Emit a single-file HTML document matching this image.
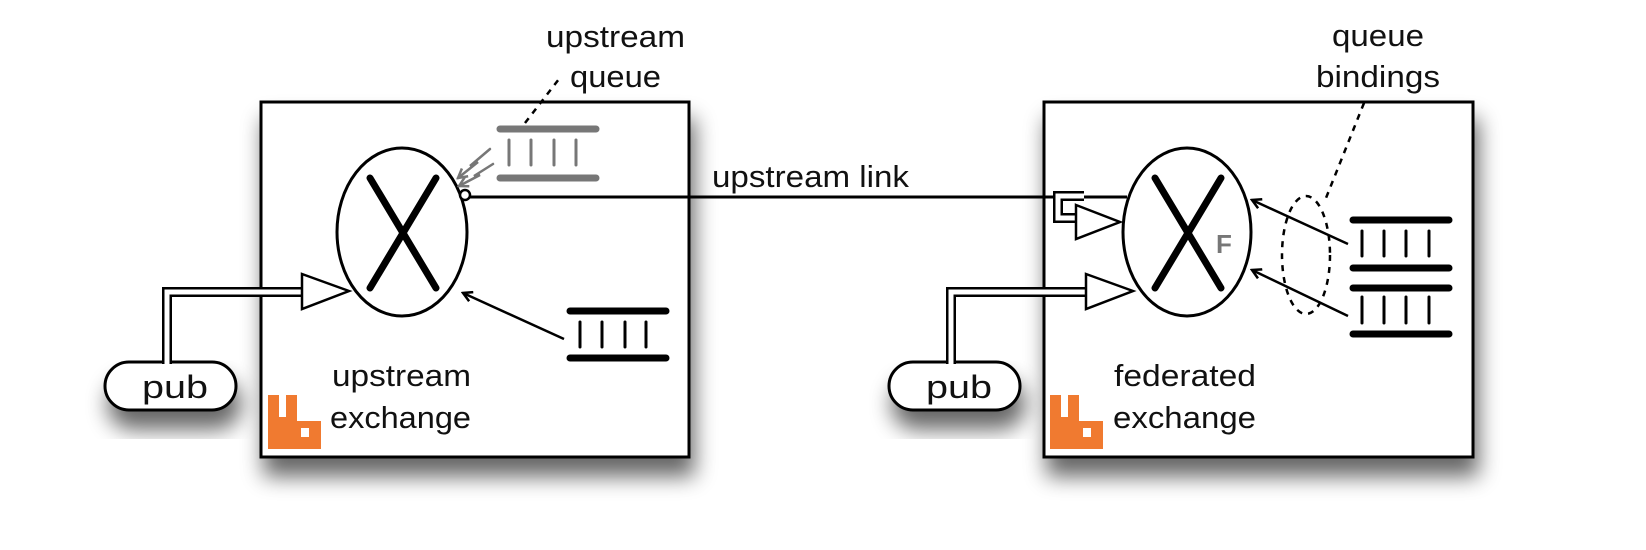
<!DOCTYPE html>
<html><head><meta charset="utf-8"><style>
html,body{margin:0;padding:0;background:#fff}
svg{display:block}
text{font-family:"Liberation Sans",sans-serif;fill:#111}
</style></head><body>
<svg width="1646" height="550" viewBox="0 0 1646 550" xmlns="http://www.w3.org/2000/svg">
<defs>
<filter id="sh" x="-40%" y="-40%" width="180%" height="200%">
<feGaussianBlur in="SourceAlpha" stdDeviation="11"/>
<feOffset dx="4" dy="18" result="b"/>
<feComponentTransfer><feFuncA type="linear" slope="0.6"/></feComponentTransfer>
<feMerge><feMergeNode/><feMergeNode in="SourceGraphic"/></feMerge>
</filter>
<marker id="ah" markerWidth="12" markerHeight="12" refX="10" refY="6" orient="auto" markerUnits="userSpaceOnUse">
<path d="M1,1 L10,6 L1,11" fill="none" stroke="#000" stroke-width="2.5"/>
</marker>
<marker id="ahg" markerWidth="12" markerHeight="12" refX="10" refY="6" orient="auto" markerUnits="userSpaceOnUse">
<path d="M1,1 L10,6 L1,11" fill="none" stroke="#777" stroke-width="2.5"/>
</marker>
</defs>

<rect x="261" y="102" width="428" height="355" fill="#fff" stroke="#000" stroke-width="3" filter="url(#sh)"/>
<rect x="1044" y="102" width="429" height="355" fill="#fff" stroke="#000" stroke-width="3" filter="url(#sh)"/>

<rect x="105" y="362" width="131" height="48" rx="24" fill="#fff" stroke="#000" stroke-width="3" filter="url(#sh)"/>
<rect x="889" y="362" width="131" height="48" rx="24" fill="#fff" stroke="#000" stroke-width="3" filter="url(#sh)"/>
<text x="142" y="398" font-size="32" textLength="66" lengthAdjust="spacingAndGlyphs">pub</text>
<text x="926" y="398" font-size="32" textLength="66" lengthAdjust="spacingAndGlyphs">pub</text>

<path d="M167,364 V292 H304" fill="none" stroke="#000" stroke-width="10"/>
<path d="M167,364 V292 H304" fill="none" stroke="#fff" stroke-width="5"/>
<path d="M302,274 L349,291 L302,309 Z" fill="#fff" stroke="#000" stroke-width="2.5"/>
<path d="M951,364 V292 H1088" fill="none" stroke="#000" stroke-width="10"/>
<path d="M951,364 V292 H1088" fill="none" stroke="#fff" stroke-width="5"/>
<path d="M1086,274 L1133,291 L1086,309 Z" fill="#fff" stroke="#000" stroke-width="2.5"/>

<line x1="465" y1="197" x2="1127" y2="197" stroke="#000" stroke-width="3"/>
<path d="M1084,196 H1058 V218 H1080" fill="none" stroke="#000" stroke-width="10"/>
<path d="M1084,196 H1058 V218 H1080" fill="none" stroke="#fff" stroke-width="5"/>
<path d="M1076,205 L1120,222 L1076,239 Z" fill="#fff" stroke="#000" stroke-width="2.5"/>
<text x="712" y="187" font-size="31" textLength="197" lengthAdjust="spacingAndGlyphs">upstream link</text>

<ellipse cx="402" cy="232" rx="65" ry="84" fill="#fff" stroke="#000" stroke-width="3"/>
<circle cx="465" cy="195" r="5" fill="#fff" stroke="#000" stroke-width="2.5"/>
<line x1="370" y1="178" x2="436" y2="288" stroke="#000" stroke-width="7" stroke-linecap="round"/>
<line x1="436" y1="178" x2="370" y2="288" stroke="#000" stroke-width="7" stroke-linecap="round"/>
<ellipse cx="1187" cy="232" rx="64" ry="84" fill="#fff" stroke="#000" stroke-width="3"/>
<line x1="1155" y1="178" x2="1221" y2="288" stroke="#000" stroke-width="7" stroke-linecap="round"/>
<line x1="1221" y1="178" x2="1155" y2="288" stroke="#000" stroke-width="7" stroke-linecap="round"/>
<text x="1216" y="253" font-size="26" font-weight="bold" style="fill:#777">F</text>

<g stroke="#777" stroke-linecap="round">
<line x1="500" y1="129" x2="596" y2="129" stroke-width="7"/>
<line x1="500" y1="178" x2="596" y2="178" stroke-width="7"/>
<line x1="509" y1="140" x2="509" y2="165" stroke-width="3"/>
<line x1="531" y1="140" x2="531" y2="165" stroke-width="3"/>
<line x1="554" y1="140" x2="554" y2="165" stroke-width="3"/>
<line x1="576" y1="140" x2="576" y2="165" stroke-width="3"/>
<path d="M490,149 L470,166 L478,162 L458,178" fill="none" stroke-width="2.5" marker-end="url(#ahg)"/>
<path d="M493,164 L474,176 L480,175 L459,186" fill="none" stroke-width="2.5" marker-end="url(#ahg)"/>
</g>
<line x1="525" y1="123" x2="559" y2="79" stroke="#000" stroke-width="2.5" stroke-dasharray="6,6"/>
<text x="546" y="47" font-size="31" textLength="139" lengthAdjust="spacingAndGlyphs">upstream</text>
<text x="570" y="87" font-size="31" textLength="91" lengthAdjust="spacingAndGlyphs">queue</text>

<g stroke="#000" stroke-linecap="round">
<line x1="570" y1="311" x2="666" y2="311" stroke-width="7"/>
<line x1="570" y1="358" x2="666" y2="358" stroke-width="7"/>
<line x1="580" y1="322" x2="580" y2="347" stroke-width="3"/>
<line x1="602" y1="322" x2="602" y2="347" stroke-width="3"/>
<line x1="625" y1="322" x2="625" y2="347" stroke-width="3"/>
<line x1="646" y1="322" x2="646" y2="347" stroke-width="3"/>
</g>
<line x1="564" y1="339" x2="463" y2="293" stroke="#000" stroke-width="2.5" marker-end="url(#ah)"/>

<g stroke="#000" stroke-linecap="round">
<line x1="1353" y1="220" x2="1449" y2="220" stroke-width="7"/>
<line x1="1353" y1="268" x2="1449" y2="268" stroke-width="7"/>
<line x1="1353" y1="288" x2="1449" y2="288" stroke-width="7"/>
<line x1="1353" y1="334" x2="1449" y2="334" stroke-width="7"/>
<line x1="1362" y1="231" x2="1362" y2="256" stroke-width="3"/>
<line x1="1384" y1="231" x2="1384" y2="256" stroke-width="3"/>
<line x1="1406" y1="231" x2="1406" y2="256" stroke-width="3"/>
<line x1="1429" y1="231" x2="1429" y2="256" stroke-width="3"/>
<line x1="1362" y1="297" x2="1362" y2="323" stroke-width="3"/>
<line x1="1384" y1="297" x2="1384" y2="323" stroke-width="3"/>
<line x1="1406" y1="297" x2="1406" y2="323" stroke-width="3"/>
<line x1="1429" y1="297" x2="1429" y2="323" stroke-width="3"/>
</g>
<line x1="1348" y1="244" x2="1252" y2="200" stroke="#000" stroke-width="2.5" marker-end="url(#ah)"/>
<line x1="1348" y1="316" x2="1252" y2="270" stroke="#000" stroke-width="2.5" marker-end="url(#ah)"/>
<ellipse cx="1306" cy="255" rx="24" ry="59" fill="none" stroke="#000" stroke-width="2.5" stroke-dasharray="6,6"/>
<line x1="1364" y1="103" x2="1324" y2="203" stroke="#000" stroke-width="2.5" stroke-dasharray="6,6"/>
<text x="1332" y="46" font-size="31" textLength="92" lengthAdjust="spacingAndGlyphs">queue</text>
<text x="1316" y="87" font-size="31" textLength="124" lengthAdjust="spacingAndGlyphs">bindings</text>

<text x="332" y="386" font-size="31" textLength="139" lengthAdjust="spacingAndGlyphs">upstream</text>
<text x="330" y="428" font-size="31" textLength="141" lengthAdjust="spacingAndGlyphs">exchange</text>
<text x="1114" y="386" font-size="31" textLength="142" lengthAdjust="spacingAndGlyphs">federated</text>
<text x="1113" y="428" font-size="31" textLength="143" lengthAdjust="spacingAndGlyphs">exchange</text>

<g fill="#f07a30">
<path d="M268,395 h11 v22 h7 v-22 h11 v26 h24 v28 h-53 z"/>
<path d="M1050,395 h11 v22 h7 v-22 h11 v26 h24 v28 h-53 z"/>
</g>
<rect x="301" y="428" width="8" height="9" fill="#fff"/>
<rect x="1083" y="428" width="8" height="9" fill="#fff"/>
</svg>
</body></html>
